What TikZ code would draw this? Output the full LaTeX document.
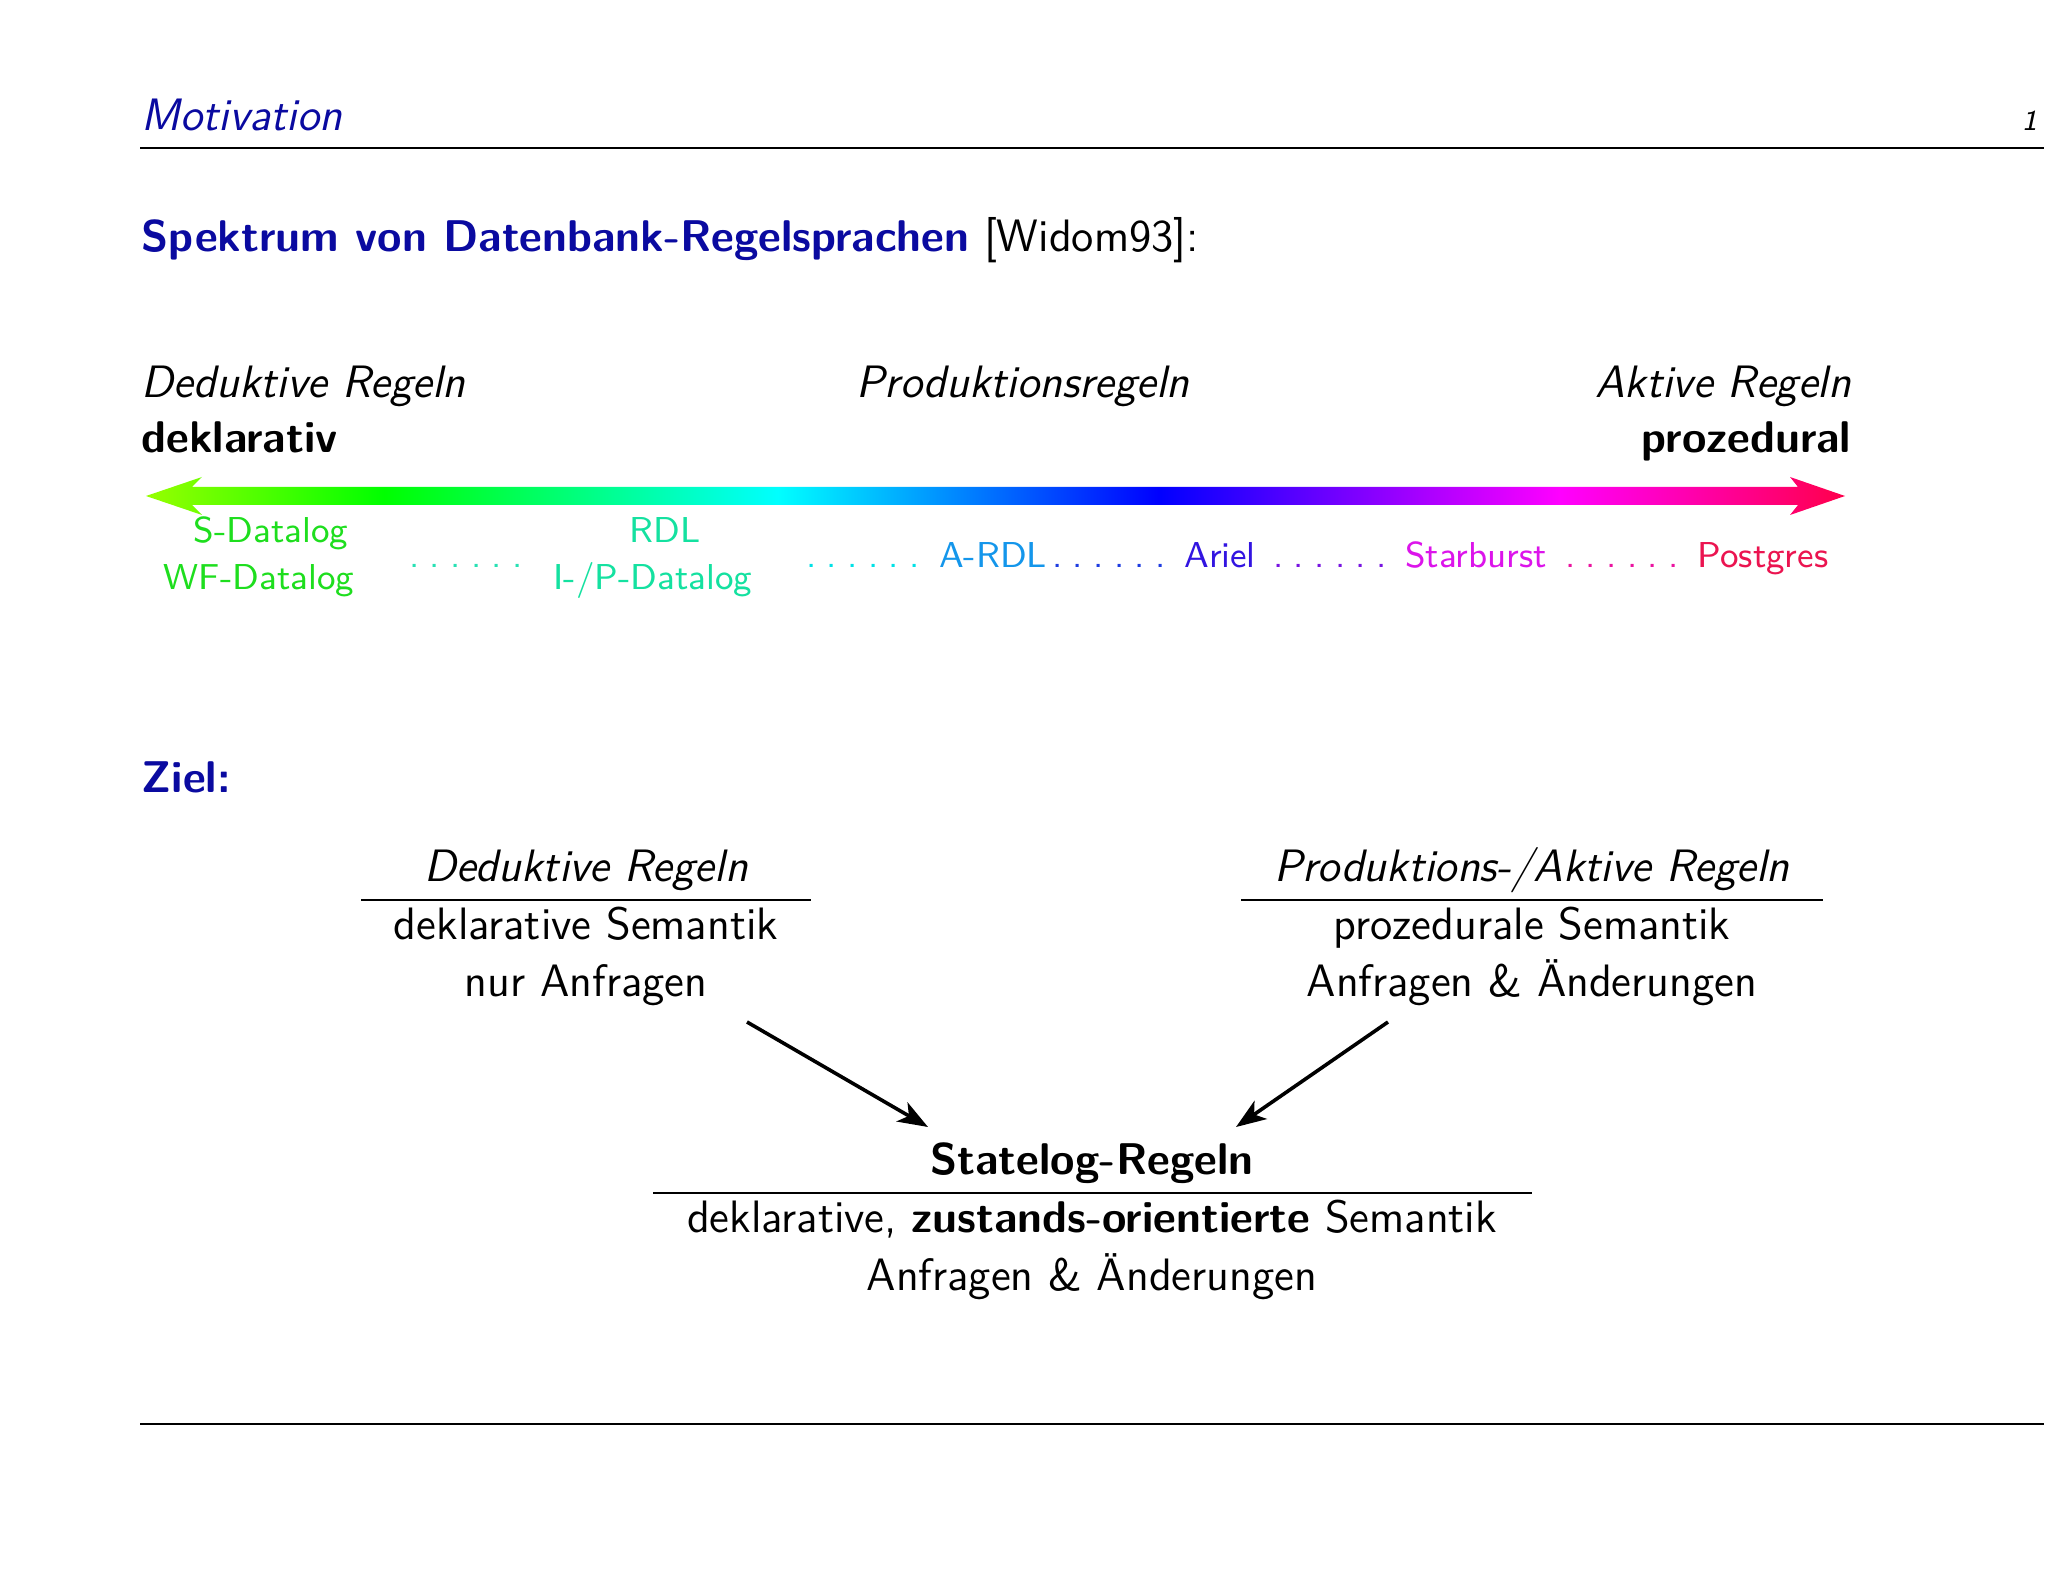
\documentclass[tikz,border=0pt]{standalone}
\usetikzlibrary{arrows.meta}
\renewcommand\familydefault{\sfdefault}
\definecolor{slideblue}{RGB}{10,10,160}
\definecolor{cStart}{RGB}{150,255,0}
\definecolor{cEnd}{RGB}{255,0,75}
\definecolor{lS}{RGB}{30,222,30}
\definecolor{lR}{RGB}{20,225,160}
\definecolor{d1}{RGB}{40,225,180}
\definecolor{d2}{RGB}{0,225,230}
\definecolor{lA}{RGB}{20,150,235}
\definecolor{d3}{RGB}{30,60,225}
\definecolor{lAr}{RGB}{50,20,225}
\definecolor{d4}{RGB}{120,20,225}
\definecolor{lSt}{RGB}{220,20,235}
\definecolor{d5}{RGB}{235,20,160}
\definecolor{lP}{RGB}{235,20,80}
\newcommand\sepdots{.\kern2.6pt.\kern2.6pt.\kern2.6pt.\kern2.6pt.\kern2.6pt.}
\newcommand\mainsize{\fontsize{11.35}{13.6}\selectfont}
\newcommand\boldsize{\fontsize{11.1}{13.3}\selectfont\bfseries}
\pgfdeclarehorizontalshading{spectrum}{100bp}{color(0bp)=(cStart); color(25bp)=(cStart); color(32bp)=(green); color(43.6bp)=(cyan); color(54.8bp)=(blue); color(66.6bp)=(magenta); color(75bp)=(cEnd); color(100bp)=(cEnd)}
\begin{document}
\begin{tikzpicture}[x=0.25pt,y=-0.25pt,
  txt/.style={inner sep=0pt, font=\mainsize},
  ittxt/.style={inner sep=0pt, font=\mainsize\itshape},
  bftxt/.style={inner sep=0pt, font=\boldsize},
  lbl/.style={inner sep=0pt, font=\fontsize{9.0}{10.8}\selectfont, anchor=base},
  rulel/.style={line width=0.7pt},
  conn/.style={line width=0.9pt, -{Stealth[length=7.5pt,width=5.5pt,inset=2pt]}}]
\useasboundingbox[fill=white] (0,0) rectangle (2048,1582);
% header
\node[ittxt, anchor=base west, text=slideblue] (head) at (141,131) {Motivation};
\node[inner sep=0pt, anchor=base east, font=\fontsize{7.2}{8.6}\selectfont\itshape] (page) at (2038,131) {1};
\draw[line width=0.5pt] (140,148) -- (2044,148);
\draw[line width=0.5pt] (140,1424) -- (2044,1424);
% title
\node[txt, anchor=base west] (title) at (141,252) {{\boldsize\color{slideblue}Spektrum von Datenbank-Regelsprachen} [Widom93]:};
% spectrum headings
\node[ittxt, anchor=base west] (ded) at (141,398) {Deduktive Regeln};
\node[ittxt, anchor=base] (prod) at (1023,398) {Produktionsregeln};
\node[ittxt, anchor=base east] (akt) at (1852,398) {Aktive Regeln};
\node[bftxt, anchor=base west] (dekl) at (141,453) {deklarativ};
\node[bftxt, anchor=base east] (proz) at (1852,453) {prozedural};
% gradient arrow
\shade[shading=spectrum] (146,496) -- (202,477) -- (192,487) -- (1798,487) -- (1790,477) -- (1845,496)
  -- (1790,515) -- (1798,505) -- (192,505) -- (202,515) -- cycle;
% labels
\node[lbl, text=lS] (sd) at (271,543) {S-Datalog};
\node[lbl, text=lS] (wf) at (259,590) {WF-Datalog};
\node[lbl, text=d1] (dots1) at (466,568) {\sepdots};
\node[lbl, text=lR] (rdl) at (665,543) {RDL};
\node[lbl, text=lR] (ipd) at (653,590) {I-/P-Datalog};
\node[lbl, text=d2] (dots2) at (863,568) {\sepdots};
\node[lbl, text=lA] (ardl) at (993,568) {A-RDL};
\node[lbl, text=d3] (dots3) at (1109,568) {\sepdots};
\node[lbl, text=lAr] (ariel) at (1220,568) {Ariel};
\node[lbl, text=d4] (dots4) at (1330,568) {\sepdots};
\node[lbl, text=lSt] (star) at (1476,568) {Starburst};
\node[lbl, text=d5] (dots5) at (1622,568) {\sepdots};
\node[lbl, text=lP] (pg) at (1763,568) {Postgres};
% Ziel
\node[bftxt, anchor=base west, text=slideblue] (ziel) at (141,793) {Ziel:};
% left block
\node[ittxt, anchor=base] (lt) at (586,882) {Deduktive Regeln};
\draw[rulel] (361,900) -- (811,900);
\node[txt, anchor=base] (l1) at (586,940) {deklarative Semantik};
\node[txt, anchor=base] (l2) at (586,997) {nur Anfragen};
% right block
\node[ittxt, anchor=base] (rt) at (1532,882) {Produktions-/Aktive Regeln};
\draw[rulel] (1241,900) -- (1823,900);
\node[txt, anchor=base] (r1) at (1532,940) {prozedurale Semantik};
\node[txt, anchor=base] (r2) at (1532,997) {Anfragen \& Änderungen};
% center block
\node[bftxt, anchor=base] (ct) at (1092,1175) {Statelog-Regeln};
\draw[rulel] (653,1193) -- (1532,1193);
\node[txt, anchor=base] (c1) at (1092,1233) {deklarative, {\boldsize zustands-orientierte} Semantik};
\node[txt, anchor=base] (c2) at (1092,1290) {Anfragen \& Änderungen};
% arrows
\coordinate (a1s) at (747,1022);
\coordinate (a1e) at (928,1127);
\coordinate (a2s) at (1388,1022);
\coordinate (a2e) at (1236,1127);
\draw[conn] (a1s) -- (a1e);
\draw[conn] (a2s) -- (a2e);
\end{tikzpicture}
\end{document}
